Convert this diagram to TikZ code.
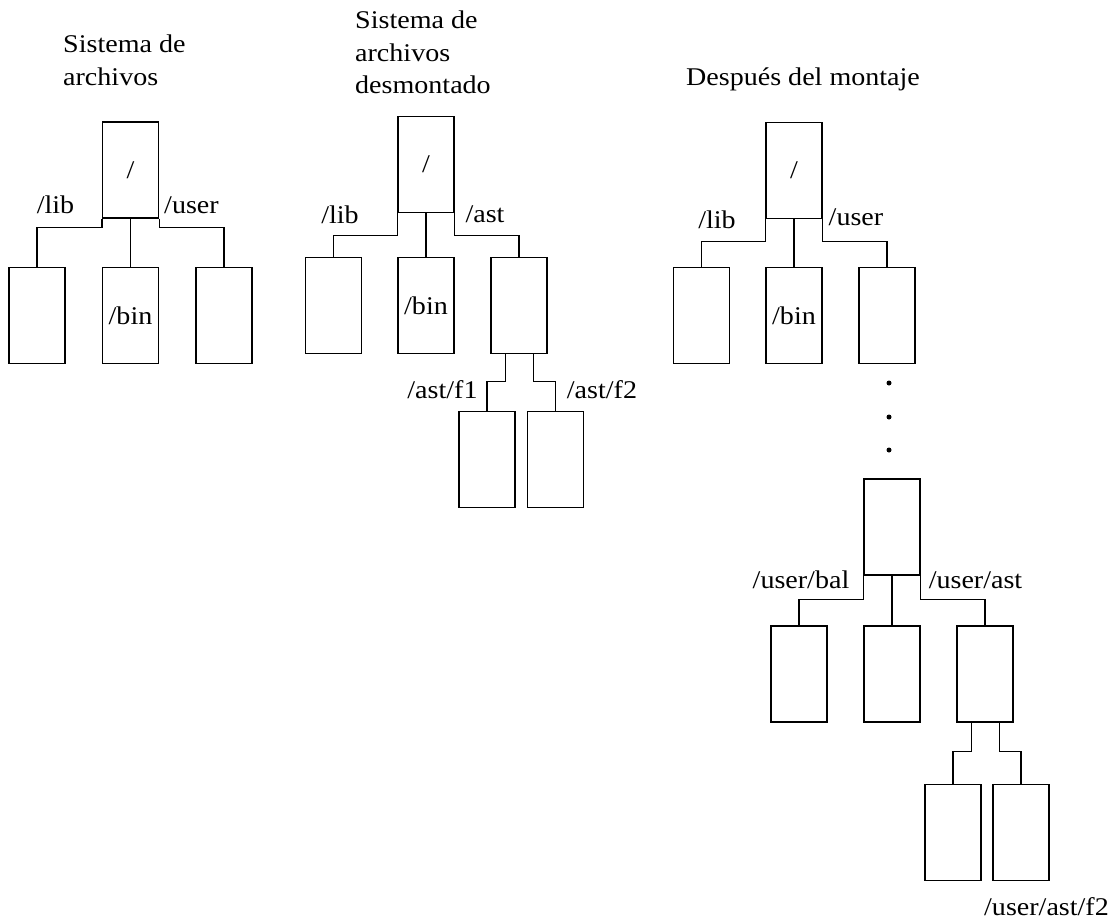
\documentclass[tikz,border=0pt]{standalone}
\usepackage{fontspec}
\setmainfont{Liberation Serif}[FakeStretch=1.1]

\begin{document}
\begin{tikzpicture}[x=1pt,y=-1pt]
	\tikzstyle{carpeta}=[draw, line width=1.4pt, minimum width=56pt, minimum height=96pt, inner sep=0pt, font=\fontsize{25.5}{30}\selectfont]
	\tikzstyle{etiq}=[anchor=base, inner sep=0pt, font=\fontsize{25.5}{30}\selectfont]
	\tikzstyle{titulo}=[anchor=north west, inner sep=0pt, align=left, font=\fontsize{25.5}{32.5}\selectfont]
	\tikzstyle{rama}=[line width=1.4pt]
	\tikzstyle{punto}=[circle, fill, inner sep=0pt, minimum size=5pt]
	\useasboundingbox (0,0) rectangle (1117,922);

	% sistema de archivos raiz
	\node[titulo] (tit1) at (63,35) {Sistema de\\archivos};
	\node[carpeta] (r1) at (130.5,170) {/};
	\node[carpeta] (a1) at (37,315.5) {};
	\node[carpeta] (b1) at (130.5,315.5) {/bin};
	\node[carpeta] (c1) at (224,315.5) {};
	\draw[rama] (r1.south west) -- ++(0,9) -| (a1.north);
	\draw[rama] (r1.south) -- (b1.north);
	\draw[rama] (r1.south east) -- ++(0,9) -| (c1.north);
	\node[etiq] (lib1) at (55.5,213) {/lib};
	\node[etiq] (user1) at (191.5,213) {/user};

	% sistema de archivos desmontado
	\node[titulo] (tit2) at (355,11) {Sistema de\\archivos\\desmontado};
	\node[carpeta] (r2) at (426,164.5) {/};
	\node[carpeta] (a2) at (333.5,305.5) {};
	\node[carpeta] (b2) at (426,305.5) {/bin};
	\node[carpeta] (c2) at (519,305.5) {};
	\node[carpeta] (d2) at (487,459.5) {};
	\node[carpeta] (e2) at (555.5,459.5) {};
	\draw[rama] (r2.south west) -- ++(0,22) -| (a2.north);
	\draw[rama] (r2.south) -- (b2.north);
	\draw[rama] (r2.south east) -- ++(0,22) -| (c2.north);
	\draw[rama] ([xshift=15pt]c2.south west) -- ++(0,27) -| (d2.north);
	\draw[rama] ([xshift=-14pt]c2.south east) -- ++(0,27) -| (e2.north);
	\node[etiq] (lib2) at (340,223) {/lib};
	\node[etiq] (ast2) at (485,222) {/ast};
	\node[etiq] (f12) at (442.5,398) {/ast/f1};
	\node[etiq] (f22) at (602,398) {/ast/f2};

	% despues del montaje
	\node[titulo, anchor=base west] (tit3) at (686,85) {Después del montaje};
	\node[carpeta] (r3) at (794,170.5) {/};
	\node[carpeta] (a3) at (701.5,315.5) {};
	\node[carpeta] (b3) at (794,315.5) {/bin};
	\node[carpeta] (c3) at (887,315.5) {};
	\draw[rama] (r3.south west) -- ++(0,22) -| (a3.north);
	\draw[rama] (r3.south) -- (b3.north);
	\draw[rama] (r3.south east) -- ++(0,22) -| (c3.north);
	\node[etiq] (lib3) at (717,228) {/lib};
	\node[etiq] (user3) at (856,225) {/user};
	\node[punto] (p1) at (889,383) {};
	\node[punto] (p2) at (889,417) {};
	\node[punto] (p3) at (889,450) {};

	\node[carpeta] (f3) at (892,527) {};
	\node[carpeta] (g3) at (799,674) {};
	\node[carpeta] (h3) at (892,674) {};
	\node[carpeta] (i3) at (985,674) {};
	\node[carpeta] (j3) at (953,832.5) {};
	\node[carpeta] (k3) at (1021,832.5) {};
	\draw[rama] (f3.south west) -- ++(0,24) -| (g3.north);
	\draw[rama] (f3.south) -- (h3.north);
	\draw[rama] (f3.south east) -- ++(0,24) -| (i3.north);
	\draw[rama] ([xshift=15pt]i3.south west) -- ++(0,29) -| (j3.north);
	\draw[rama] ([xshift=-14pt]i3.south east) -- ++(0,29) -| (k3.north);
	\node[etiq] (bal3) at (801,588) {/user/bal};
	\node[etiq] (ast3) at (975.5,588) {/user/ast};
	\node[etiq] (f23) at (1046.5,915) {/user/ast/f2};
\end{tikzpicture}
\end{document}
